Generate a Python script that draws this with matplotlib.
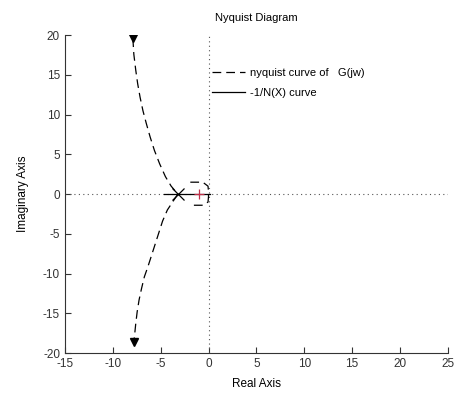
import numpy as np
from matplotlib import pyplot as plt

plt.rcParams['font.family'] = ['Liberation Sans', 'DejaVu Sans']
plt.rcParams['font.size'] = 8
plt.rcParams['axes.unicode_minus'] = False

# nyquist curve of G(jw) (upper and lower branches)
nyq_up_re = [-7.9, -7.8, -7.6, -7.4, -7.15, -6.85, -6.5, -6.1, -5.65, -5.1, -4.5, -3.9, -3.2]
nyq_up_im = [19.6, 17.6, 15.6, 13.9, 12.2, 10.5, 8.9, 7.2, 5.5, 3.8, 2.2, 1.0, 0.0]
nyq_lo_re = [-3.2, -3.7, -4.3, -4.8, -5.2, -5.6, -6.0, -6.35, -6.7, -7.0, -7.25, -7.45, -7.6, -7.7, -7.8]
nyq_lo_im = [0.0, -0.9, -2.0, -3.4, -4.9, -6.4, -7.9, -9.2, -10.4, -11.9, -13.3, -14.8, -16.3, -17.5, -18.6]

# small part of the curve near the origin
near_re = [-1.9, -0.6, -0.05, 0.0, 0.0, -0.05, -0.6, -1.9]
near_im = [1.5, 1.5, 1.0, 0.3, -0.3, -1.0, -1.4, -1.4]

# -1/N(X) curve along the real axis
dfn_re = [-4.7, 0.2]
dfn_im = [0.0, 0.0]

# intersection point and critical point
cross_re, cross_im = -3.2, 0.0
crit_re, crit_im = -1.0, 0.0

fig = plt.figure(figsize=(4.57, 3.99), dpi=100)
ax = fig.add_axes([0.142, 0.115, 0.838, 0.797])

ax.axhline(0, color='#555555', linestyle=(0, (1, 3)), linewidth=0.8)
ax.axvline(0, color='#555555', linestyle=(0, (1, 3)), linewidth=0.8)

dash = (0, (7, 4))
ax.plot(nyq_up_re, nyq_up_im, color='black', linestyle=dash, linewidth=0.9,
        label='nyquist curve of   G(jw)')
ax.plot(nyq_lo_re, nyq_lo_im, color='black', linestyle=dash, linewidth=0.9)
ax.plot(near_re, near_im, color='black', linestyle=dash, linewidth=0.9)
ax.plot(dfn_re, dfn_im, color='black', linewidth=0.9, label='-1/N(X) curve')

ax.plot(nyq_up_re[0], nyq_up_im[0], marker='v', color='black', markersize=6)
ax.plot(nyq_lo_re[-1], nyq_lo_im[-1], marker='v', color='black', markersize=6)
ax.plot(cross_re, cross_im, marker='x', color='black', markersize=9, markeredgewidth=0.9)
ax.plot(crit_re, crit_im, marker='+', color='#c0304a', markersize=7, markeredgewidth=0.9)

ax.set_xlim(-15, 25)
ax.set_ylim(-20, 20)
ax.set_xticks(np.arange(-15, 26, 5))
ax.set_yticks(np.arange(-20, 21, 5))
ax.tick_params(direction='in', length=4, width=0.8, colors='#333333', labelcolor='#333333',
               labelsize=8.5)
ax.spines['top'].set_visible(False)
ax.spines['right'].set_visible(False)
for s in ['left', 'bottom']:
    ax.spines[s].set_color('#333333')
    ax.spines[s].set_linewidth(0.8)

ax.set_title('Nyquist Diagram', fontsize=8, pad=10)
ax.set_xlabel('Real Axis', fontsize=8.5, labelpad=6)
ax.set_ylabel('Imaginary Axis', fontsize=8.5, labelpad=10)

ax.legend(loc='upper left', bbox_to_anchor=(0.357, 0.927), frameon=False, fontsize=8,
          handlelength=3.0, handletextpad=0.45, labelspacing=0.85)

plt.savefig('out.png', dpi=100)
